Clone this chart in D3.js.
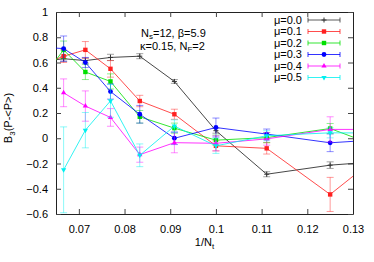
<!DOCTYPE html>
<html>
<head>
<meta charset="utf-8">
<script src="https://d3js.org/d3.v7.min.js"></script>
<style>
body{ margin:0; background:#fff; }
svg{ font-family:"Liberation Sans", Arial, sans-serif; font-size:11px; }
</style>
</head>
<body>
<div id="chart"></div>
<script>
// 1/N_t categories
const nt = [16, 15, 14, 13, 12, 11, 10, 9, 8, 7];
const muLabels = ["μ=0.0", "μ=0.1", "μ=0.2", "μ=0.3", "μ=0.4", "μ=0.5"];

const mu0 = [0.61, 0.63, 0.615, 0.64, 0.65, 0.45, 0.06, -0.285, -0.213, -0.165];
const mu0err = [0.02, 0.02, 0.02, 0.025, 0.02, 0.015, 0.02, 0.02, 0.026, 0.02];
const mu1 = [0.59, 0.65, 0.70, 0.55, 0.295, 0.19, -0.06, -0.08, -0.445, 0.07];
const mu1err = [0.05, 0.05, 0.066, 0.066, 0.045, 0.04, 0.04, 0.045, 0.135, 0.1];
const mu2 = [0.5, 0.70, 0.525, 0.45, 0.17, 0.08, -0.015, 0.005, 0.077, -0.165];
const mu2err = [0.05, 0.07, 0.06, 0.06, 0.05, 0.04, 0.04, 0.04, 0.04, 0.05];
const mu3 = [0.72, 0.71, 0.60, 0.37, 0.19, 0.0, 0.085, 0.033, -0.036, 0.005];
const mu3err = [0.05, 0.1, 0.04, 0.06, 0.07, 0.05, 0.075, 0.04, 0.07, 0.06];
const mu4 = [null, 0.36, 0.255, 0.165, -0.13, -0.035, -0.04, -0.005, 0.07, 0.07];
const mu4err = [null, 0.11, 0.12, 0.07, 0.06, 0.08, 0.06, 0.05, 0.1, 0.08];
const mu5 = [null, -0.25, 0.064, 0.296, -0.135, 0.096, -0.06, 0.02, 0.043, 0.04];
const mu5err = [null, 0.34, 0.14, 0.13, 0.09, 0.05, 0.06, 0.04, 0.04, 0.05];

const xTicks = [0.07, 0.08, 0.09, 0.1, 0.11, 0.12, 0.13];
const yTicks = [-0.6, -0.4, -0.2, 0, 0.2, 0.4, 0.6, 0.8, 1];

const colors = ["#333333", "#ff2020", "#00e000", "#0000ff", "#ff00ff", "#00f0f0"];
const markers = ["plus", "square", "square", "circle", "triangle", "tridown"];
const series = [[mu0, mu0err], [mu1, mu1err], [mu2, mu2err], [mu3, mu3err], [mu4, mu4err], [mu5, mu5err]];

const width = 374, height = 262;
const margin = {top: 12, right: 21, bottom: 48, left: 56};

const svg = d3.select("#chart").append("svg")
  .attr("width", width).attr("height", height);

const x = d3.scaleLinear().domain([0.065, 0.13]).range([margin.left, width - margin.right]);
const y = d3.scaleLinear().domain([-0.6, 1]).range([height - margin.bottom, margin.top]);

svg.append("clipPath").attr("id", "clip")
  .append("rect")
  .attr("x", margin.left).attr("y", margin.top)
  .attr("width", width - margin.left - margin.right)
  .attr("height", height - margin.top - margin.bottom);

// axes with inward ticks (mirrored)
const fmt = d => d3.format("")(+d.toFixed(2));
svg.append("g").attr("transform", "translate(0," + y(-0.6) + ")")
  .call(d3.axisBottom(x).tickValues(xTicks).tickSizeInner(-5).tickSizeOuter(0).tickPadding(11).tickFormat(fmt));
svg.append("g").attr("transform", "translate(0," + y(1) + ")")
  .call(d3.axisTop(x).tickValues(xTicks).tickSizeInner(-5).tickSizeOuter(0).tickFormat(""));
svg.append("g").attr("transform", "translate(" + x(0.065) + ",0)")
  .call(d3.axisLeft(y).tickValues(yTicks).tickSizeInner(-5).tickSizeOuter(0).tickPadding(8).tickFormat(fmt));
svg.append("g").attr("transform", "translate(" + x(0.13) + ",0)")
  .call(d3.axisRight(y).tickValues(yTicks).tickSizeInner(-5).tickSizeOuter(0).tickFormat(""));

svg.selectAll(".domain").attr("stroke", "#222");
svg.selectAll(".tick line").attr("stroke", "#444");
svg.selectAll(".tick text").attr("fill", "#000").style("font-size", "11px")
  .style("font-family", "'Liberation Sans', Arial, sans-serif");

function marker(g, type, cx, cy, color) {
  if (type === "plus") {
    g.append("path").attr("d", `M${cx-2.5},${cy}H${cx+2.5}M${cx},${cy-2.5}V${cy+2.5}`)
      .attr("stroke", color).attr("stroke-width", 1);
  } else if (type === "square") {
    g.append("rect").attr("x", cx - 2.2).attr("y", cy - 2.2).attr("width", 4.4).attr("height", 4.4)
      .attr("fill", color);
  } else if (type === "circle") {
    g.append("circle").attr("cx", cx).attr("cy", cy).attr("r", 2.4).attr("fill", color);
  } else {
    const s = type === "triangle" ? 1 : -1;
    g.append("path").attr("d", d3.symbol().type(d3.symbolTriangle).size(12)())
      .attr("transform", `translate(${cx},${cy}) scale(1,${s})`).attr("fill", color);
  }
}

const plot = svg.append("g").attr("clip-path", "url(#clip)");

series.forEach(([vals, errs], i) => {
  const pts = nt.map((n, j) => ({x: 1 / n, v: vals[j], e: errs[j]})).filter(d => d.v !== null);
  const g = plot.append("g");
  // error bars
  pts.forEach(d => {
    const px = x(d.x), y0 = y(d.v - d.e), y1 = y(d.v + d.e);
    g.append("path")
      .attr("d", `M${px},${y0}V${y1}M${px-3.5},${y0}H${px+3.5}M${px-3.5},${y1}H${px+3.5}`)
      .attr("stroke", colors[i]).attr("stroke-width", 1).attr("opacity", 0.45).attr("fill", "none");
  });
  g.append("path").datum(pts)
    .attr("fill", "none").attr("stroke", colors[i]).attr("stroke-width", 1)
    .attr("opacity", i === 0 ? 0.9 : 0.8)
    .attr("d", d3.line().x(d => x(d.x)).y(d => y(d.v)));
  pts.forEach(d => marker(g, markers[i], x(d.x), y(d.v), colors[i]));
});

// legend
const leg = svg.append("g");
muLabels.forEach((t, i) => {
  const ly = 20 + i * 11.5;
  leg.append("text").attr("x", 302).attr("y", ly).attr("dy", "0.35em")
    .attr("text-anchor", "end").text(t);
  leg.append("path")
    .attr("d", `M308,${ly}H340M308,${ly-2.5}V${ly+2.5}M340,${ly-2.5}V${ly+2.5}`)
    .attr("stroke", colors[i]).attr("stroke-width", 1).attr("opacity", 0.8).attr("fill", "none");
  marker(leg, markers[i], 324, ly, colors[i]);
});

// annotation
const ann = svg.append("g");
const t1 = ann.append("text").attr("x", 141).attr("y", 37);
t1.append("tspan").text("N");
t1.append("tspan").attr("font-size", "8px").attr("dy", 2).text("s");
t1.append("tspan").attr("dy", -2).text("=12, β=5.9");
const t2 = ann.append("text").attr("x", 140).attr("y", 50);
t2.append("tspan").text("κ=0.15, N");
t2.append("tspan").attr("font-size", "8px").attr("dy", 2).text("F");
t2.append("tspan").attr("dy", -2).text("=2");

// axis titles
const xl = svg.append("text").attr("x", x(0.0975)).attr("y", 246).attr("text-anchor", "middle");
xl.append("tspan").text("1/N");
xl.append("tspan").attr("font-size", "8px").attr("dy", 2.5).text("t");

const yl = svg.append("text").attr("transform", "translate(12,118) rotate(-90)").attr("text-anchor", "middle");
yl.append("tspan").text("B");
yl.append("tspan").attr("font-size", "8px").attr("dy", 2.5).text("3");
yl.append("tspan").attr("dy", -2.5).text("(P-<P>)");
</script>
</body>
</html>
